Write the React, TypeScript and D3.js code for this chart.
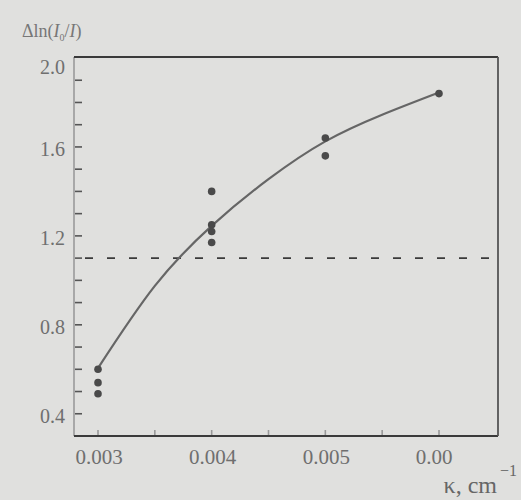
import React from "react";
import * as d3 from "d3";

const W = 521;
const H = 500;

const pointKappa = [0.003, 0.003, 0.003, 0.004, 0.004, 0.004, 0.004, 0.005, 0.005, 0.006];
const pointValue = [0.60, 0.54, 0.49, 1.40, 1.25, 1.22, 1.17, 1.64, 1.56, 1.84];

const curveKappa = [0.003, 0.0035, 0.004, 0.0045, 0.005, 0.0055, 0.006];
const curveValue = [0.605, 0.975, 1.245, 1.455, 1.625, 1.745, 1.845];

const thresholdValue = 1.1;

const yMajorTicks = [0.4, 0.8, 1.2, 1.6, 2.0];
const yMajorLabels = ["0.4", "0.8", "1.2", "1.6", "2.0"];
const yMinorTicks = [0.4, 0.5, 0.6, 0.7, 0.8, 0.9, 1.0, 1.1, 1.2, 1.3, 1.4, 1.5, 1.6, 1.7, 1.8, 1.9];
const xMajorTicks = [0.003, 0.004, 0.005, 0.006];
const xMajorLabels = ["0.003", "0.004", "0.005", "0.00"];
const xMinorTicks = [0.003, 0.0035, 0.004, 0.0045, 0.005, 0.0055, 0.006];

export default function App() {
  const left = 74, right = 498, top = 57, bottom = 436;
  const x = d3.scaleLinear().domain([0.003, 0.006]).range([98, 439]);
  const y = d3.scaleLinear().domain([0.3, 2.0]).range([bottom, 58]);

  const curvePts: [number, number][] = curveKappa.map((k, i) => [x(k), y(curveValue[i])]);
  const line = d3.line().curve(d3.curveNatural)(curvePts) || "";

  const font = "'Liberation Serif', 'DejaVu Serif', serif";
  const labelColor = "#6f6f6f";

  return (
    <svg width={W} height={H} style={{ position: "absolute", left: 0, top: 0 }} fontFamily={font}>
      <rect x={0} y={0} width={W} height={H} fill="#e0e0de" />
      {yMinorTicks.map((t, i) => (
        <line key={"ym" + i} x1={left} x2={left + 8} y1={y(t)} y2={y(t)} stroke="#555" strokeWidth={1.6} />
      ))}
      {xMinorTicks.map((t, i) => (
        <line key={"xm" + i} x1={x(t)} x2={x(t)} y1={bottom} y2={bottom - 6} stroke="#999" strokeWidth={1.6} />
      ))}
      <line x1={left} x2={left} y1={top} y2={bottom} stroke="#a8a8a8" strokeWidth={2} />
      <line x1={left} x2={right} y1={top} y2={top} stroke="#3a3a3a" strokeWidth={1.8} />
      <line x1={left} x2={right} y1={bottom} y2={bottom} stroke="#3a3a3a" strokeWidth={1.8} />
      <line x1={right} x2={right} y1={top} y2={bottom} stroke="#555" strokeWidth={1.8} />
      <line x1={85} x2={right} y1={y(thresholdValue)} y2={y(thresholdValue)} stroke="#3a3a3a" strokeWidth={1.6} strokeDasharray="8 14" />
      <path d={line} fill="none" stroke="#666" strokeWidth={2.2} />
      {pointKappa.map((k, i) => (
        <circle key={"p" + i} cx={x(k)} cy={y(pointValue[i])} r={3.8} fill="#4a4a4a" />
      ))}
      {yMajorTicks.map((t, i) => (
        <text key={"yl" + i} x={65} y={y(t) + (t === 2.0 ? 9 : 2)} dy="0.35em" textAnchor="end" fontSize={20} fill={labelColor}>
          {yMajorLabels[i]}
        </text>
      ))}
      {xMajorTicks.map((t, i) => (
        <text key={"xl" + i} x={x(t) + (i === 3 ? -5 : 1)} y={464} textAnchor="middle" fontSize={21} fill={labelColor}>
          {xMajorLabels[i]}
        </text>
      ))}
      <text x={497} y={493} textAnchor="end" fontSize={24} fill="#666">κ, cm</text>
      <text x={500} y={476} fontSize={16} fill="#666">−1</text>
      <text x={22} y={37} fontSize={18} fill="#777">
        <tspan>Δln(</tspan>
        <tspan fontStyle="italic">I</tspan>
        <tspan fontSize={10} dy={4}>0</tspan>
        <tspan dy={-4}>/</tspan>
        <tspan fontStyle="italic">I</tspan>
        <tspan>)</tspan>
      </text>
    </svg>
  );
}
